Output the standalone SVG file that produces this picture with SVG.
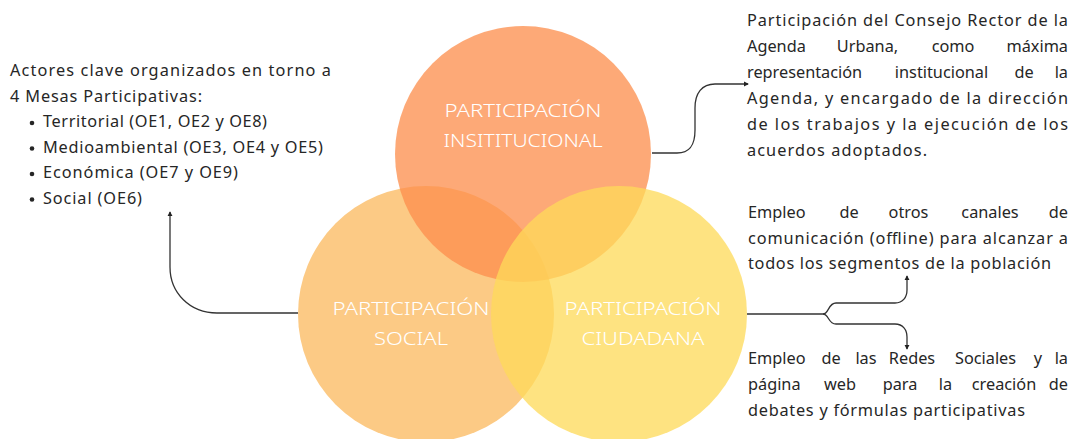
<svg xmlns="http://www.w3.org/2000/svg" width="1073" height="439" viewBox="0 0 1073 439">
<defs>
<style>
.t{font-family:"Noto Sans","Liberation Sans",sans-serif;font-size:16.3px;fill:#262626}
.c{font-family:"Noto Sans","Liberation Sans",sans-serif;font-size:19px;fill:#ffffff;text-anchor:middle;font-weight:300}
.e{text-anchor:end}
.m{text-anchor:middle}
.conn{fill:none;stroke:#333333;stroke-width:1.3}
</style>
<marker id="ah" viewBox="0 0 6 6" refX="5" refY="3" markerWidth="4" markerHeight="4" orient="auto">
<path d="M0,0 L6,3 L0,6 z" fill="#222222"/>
</marker>
</defs>
<rect width="1073" height="439" fill="#ffffff"/>

<g id="circle-social">
<circle cx="426" cy="314" r="128" fill="#FCCA85"/>
</g>
<g id="circle-institucional">
<circle cx="523" cy="154" r="128" fill="rgb(252,142,76)" fill-opacity="0.76"/>
</g>
<g id="circle-ciudadana">
<circle cx="619" cy="314" r="128" fill="rgb(254,218,89)" fill-opacity="0.76"/>
</g>

<g id="labels">
<text class="c" x="523" y="117" textLength="157" lengthAdjust="spacingAndGlyphs">PARTICIPACIÓN</text>
<text class="c" x="523" y="147" textLength="159" lengthAdjust="spacingAndGlyphs">INSITITUCIONAL</text>
<text class="c" x="411" y="315" textLength="157" lengthAdjust="spacingAndGlyphs">PARTICIPACIÓN</text>
<text class="c" x="411" y="345" textLength="74" lengthAdjust="spacingAndGlyphs">SOCIAL</text>
<text class="c" x="643" y="315" textLength="157" lengthAdjust="spacingAndGlyphs">PARTICIPACIÓN</text>
<text class="c" x="643" y="345" textLength="123" lengthAdjust="spacingAndGlyphs">CIUDADANA</text>
</g>

<g id="connectors">
<path class="conn" d="M298,313 H217 C190,313 170,293 170,267 V212" marker-end="url(#ah)"/>
<path class="conn" d="M652,153 H677 C690,153 695,145 695,130 V108 C695,93 702,84 715,84 H748" marker-end="url(#ah)"/>
<path class="conn" d="M747,314 H823 C829,314 828,303 836,303 H895 C903,303 907,297 907,290 V276" marker-end="url(#ah)"/>
<path class="conn" d="M823,314 C829,314 828,324 836,324 H895 C903,324 907,330 907,337 V349" marker-end="url(#ah)"/>
</g>

<g id="text-mesas">
<text class="t" x="10" y="76" textLength="321" lengthAdjust="spacing">Actores clave organizados en torno a</text>
<text class="t" x="10" y="101.5" textLength="192" lengthAdjust="spacing">4 Mesas Participativas:</text>
<circle cx="32" cy="123" r="2.3" fill="#262626"/>
<text class="t" x="43" y="127" textLength="224" lengthAdjust="spacing">Territorial (OE1, OE2 y OE8)</text>
<circle cx="32" cy="148.5" r="2.3" fill="#262626"/>
<text class="t" x="43" y="152.5" textLength="280" lengthAdjust="spacing">Medioambiental (OE3, OE4 y OE5)</text>
<circle cx="32" cy="174" r="2.3" fill="#262626"/>
<text class="t" x="43" y="178" textLength="195" lengthAdjust="spacing">Económica (OE7 y OE9)</text>
<circle cx="32" cy="199.5" r="2.3" fill="#262626"/>
<text class="t" x="43" y="203.5" textLength="99" lengthAdjust="spacing">Social (OE6)</text>
</g>

<g id="text-consejo">
<text class="t" x="747" y="26" textLength="321" lengthAdjust="spacing">Participación del Consejo Rector de la</text>
<text class="t" y="52"><tspan x="747">Agenda</tspan><tspan x="867.5" class="m">Urbana,</tspan><tspan x="953" class="m">como</tspan><tspan x="1068" class="e">máxima</tspan></text>
<text class="t" y="78"><tspan x="747">representación</tspan><tspan x="941.5" class="m">institucional</tspan><tspan x="1024" class="m">de</tspan><tspan x="1068" class="e">la</tspan></text>
<text class="t" x="747" y="104" textLength="321" lengthAdjust="spacing">Agenda, y encargado de la dirección</text>
<text class="t" x="747" y="130" textLength="321" lengthAdjust="spacing">de los trabajos y la ejecución de los</text>
<text class="t" x="747" y="156" textLength="180" lengthAdjust="spacing">acuerdos adoptados.</text>
</g>

<g id="text-offline">
<text class="t" y="218"><tspan x="748">Empleo</tspan><tspan x="849" class="m">de</tspan><tspan x="908.5" class="m">otros</tspan><tspan x="990" class="m">canales</tspan><tspan x="1068" class="e">de</tspan></text>
<text class="t" x="748" y="243.5" textLength="320" lengthAdjust="spacing">comunicación (offline) para alcanzar a</text>
<text class="t" x="748" y="269" textLength="303" lengthAdjust="spacing">todos los segmentos de la población</text>
</g>

<g id="text-redes">
<text class="t" y="364"><tspan x="748">Empleo</tspan><tspan x="831" class="m">de</tspan><tspan x="866" class="m">las</tspan><tspan x="912" class="m">Redes</tspan><tspan x="985.5" class="m">Sociales</tspan><tspan x="1038" class="m">y</tspan><tspan x="1068" class="e">la</tspan></text>
<text class="t" y="390"><tspan x="748">página</tspan><tspan x="840" class="m">web</tspan><tspan x="900" class="m">para</tspan><tspan x="945.5" class="m">la</tspan><tspan x="1004" class="m">creación</tspan><tspan x="1068" class="e">de</tspan></text>
<text class="t" x="748" y="416" textLength="277" lengthAdjust="spacing">debates y fórmulas participativas</text>
</g>
</svg>
